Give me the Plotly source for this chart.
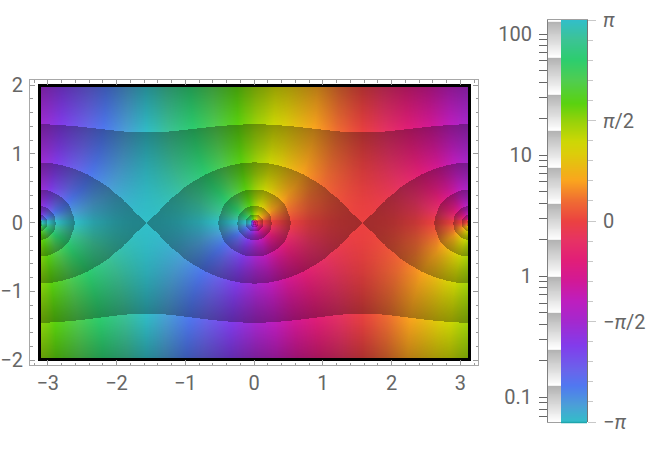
import math
import numpy as np
import plotly.graph_objects as go

W, H = 659, 472

# ---- values: one quadrant of the map (0<=x<=pi/2, 0<=y<=2)
X_NODES = [0, .0625, .125, .25, .5, .8, 1.1, 1.25, 1.3208, 1.3833, 1.4458, 1.5083, 1.5708]
Y_NODES = [0, .0625, .125, .1875, .25, .35, .5, .7, .88, 1.1, 1.3, 1.44, 1.75, 2]

# log2 of the magnitude at each node (rows = Y_NODES, columns = X_NODES)
LOG2_MAGNITUDE = [
    [-6, -4, -3, -2.015, -1.06, -.479, -.166, -.0755, -.0456, -.0256, -.0113, -.0028, 0],
    [-4, -3.5, -2.84, -1.97, -1.05, -.474, -.163, -.0724, -.0426, -.0227, -.0084, 0, .0028],
    [-3, -2.84, -2.5, -1.85, -1.01, -.457, -.152, -.0631, -.0336, -.014, .0001, .0085, .0113],
    [-2.406, -2.331, -2.145, -1.684, -.957, -.431, -.134, -.0476, -.0187, .0005, .0144, .0225, .0252],
    [-1.985, -1.94, -1.83, -1.5, -.884, -.395, -.11, -.0261, .0019, .0206, .034, .042, .0446],
    [-1.485, -1.463, -1.402, -1.202, -.742, -.319, -.059, .02, .0464, .064, .0767, .0841, .0866],
    [-.94, -.93, -.9, -.794, -.498, -.174, .046, .1145, .1377, .1532, .1645, .171, .1733],
    [-.399, -.394, -.379, -.326, -.156, .062, .227, .281, .299, .312, .321, .326, .328],
    [-.002, .001, .009, .041, .147, .298, .421, .462, .476, .486, .493, .497, .499],
    [.417, .419, .424, .442, .505, .6, .683, .712, .722, .729, .734, .737, .738],
    [.764, .765, .768, .78, .819, .883, .94, .96, .967, .972, .976, .978, .979],
    [.994, .995, .998, 1.005, 1.035, 1.082, 1.126, 1.142, 1.147, 1.151, 1.154, 1.156, 1.157],
    [1.48, 1.481, 1.482, 1.486, 1.501, 1.526, 1.55, 1.559, 1.562, 1.565, 1.566, 1.567, 1.567],
    [1.859, 1.859, 1.86, 1.862, 1.871, 1.886, 1.901, 1.906, 1.908, 1.91, 1.911, 1.911, 1.912],
]
# phase in radians at the same nodes
PHASE = [
    [.785, 0, 0, 0, 0, 0, 0, 0, 0, 0, 0, 0, 0],
    [1.571, .784, .461, .24, .114, .0605, .032, .0207, .0159, .0118, .0078, .0039, 0],
    [1.571, 1.105, .78, .453, .224, .12, .063, .0413, .0318, .0236, .0156, .0078, 0],
    [1.571, 1.245, .975, .628, .327, .178, .094, .0615, .0473, .0352, .0233, .0116, 0],
    [1.571, 1.321, 1.097, .765, .421, .234, .124, .0812, .0624, .0465, .0308, .0153, 0],
    [1.571, 1.387, 1.213, .922, .552, .316, .17, .1113, .0857, .0637, .0423, .0211, 0],
    [1.571, 1.436, 1.306, 1.066, .702, .422, .231, .1523, .1175, .0875, .058, .0289, 0],
    [1.571, 1.468, 1.366, 1.171, .836, .531, .298, .1982, .1531, .1142, .0758, .0378, 0],
    [1.571, 1.482, 1.395, 1.224, .912, .601, .345, .2305, .1785, .1332, .0886, .0442, 0],
    [1.571, 1.493, 1.415, 1.262, .972, .661, .387, .2599, .2016, .1507, .1003, .0501, 0],
    [1.571, 1.498, 1.426, 1.283, 1.006, .697, .413, .2788, .2166, .1621, .1079, .0539, 0],
    [1.571, 1.501, 1.431, 1.293, 1.022, .715, .427, .2886, .2244, .168, .1118, .0559, 0],
    [1.571, 1.504, 1.438, 1.306, 1.045, .741, .447, .3031, .2359, .1768, .1178, .0589, 0],
    [1.571, 1.506, 1.441, 1.312, 1.055, .752, .456, .3101, .2414, .1809, .1205, .0603, 0],
]

# colour legend stops: phase, then r, g, b
HUE_PHASES = [-math.pi, -2.88, -2.57, -2.33, -1.94, -1.55, -1.24, -.93, -.61, -.30, 0,
              .33, .64, 1.06, 1.25, 1.57, 1.84, 2.2, 2.52, 2.85, math.pi]
HUE_RGB = [(50, 190, 200), (75, 160, 215), (80, 120, 240), (105, 100, 235), (130, 60, 235),
           (165, 40, 205), (190, 30, 190), (210, 25, 150), (225, 30, 120), (230, 50, 100),
           (235, 65, 65), (240, 110, 50), (250, 165, 30), (220, 205, 10), (205, 215, 5),
           (150, 210, 10), (90, 210, 15), (80, 205, 80), (45, 205, 110), (60, 195, 150),
           (50, 190, 200)]

X_TICKS = [-3, -2, -1, 0, 1, 2, 3]
Y_TICKS = [-2, -1, 0, 1, 2]
MAG_TICK_VALUES = [.07, .08, .09, .1, .2, .3, .4, .5, .6, .7, .8, .9, 1, 2, 3, 4, 5, 6, 7, 8, 9,
                   10, 20, 30, 40, 50, 60, 70, 80, 90, 100]
MAG_TICK_LABELS = {.1: "0.1", 1: "1", 10: "10", 100: "100"}
HUE_TICK_LABELS = ["\u2212<i>\u03c0</i>", "\u2212<i>\u03c0</i>/2", "0", "<i>\u03c0</i>/2", "<i>\u03c0</i>"]

# ---- unfold the quadrant over the whole map
xq = np.array(X_NODES)
mq = np.array(LOG2_MAGNITUDE)
pq = np.array(PHASE)
x_right = np.concatenate([xq, math.pi - xq[-2::-1]])
x_full = np.concatenate([-x_right[:0:-1], x_right])
m_right = np.hstack([mq, mq[:, -2::-1]])
m_up = np.hstack([m_right[:, :0:-1], m_right])
p_right = np.hstack([pq, -pq[:, -2::-1]])
p_up = np.hstack([math.pi - p_right[:, :0:-1], p_right])
y_up = np.array(Y_NODES)
y_down = -y_up[::-1]
p_down = -p_up[::-1]
y_full = np.concatenate([y_down[:-1], y_up])
m_full = np.vstack([m_up[:0:-1], m_up])

# ---- colour scales
PH_MIN, PH_MAX = -1.5 * math.pi, 1.5 * math.pi
stops = {}
for off in (-2 * math.pi, 0, 2 * math.pi):
    for ph, c in zip(HUE_PHASES, HUE_RGB):
        v = ph + off
        if PH_MIN <= v <= PH_MAX:
            stops[round((v - PH_MIN) / (PH_MAX - PH_MIN), 6)] = "rgb(%d,%d,%d)" % c
def hue_at(ph):
    ph = (ph + math.pi) % (2 * math.pi) - math.pi
    return [int(round(np.interp(ph, HUE_PHASES, [c[i] for c in HUE_RGB]))) for i in range(3)]
stops[0.0] = "rgb(%d,%d,%d)" % tuple(hue_at(PH_MIN))
stops[1.0] = "rgb(%d,%d,%d)" % tuple(hue_at(PH_MAX))
hue_scale = [[k, stops[k]] for k in sorted(stops)]

SHADE = .31
M_MIN, M_MAX = -6, 8
shade_scale = []
for k in range(M_MIN, M_MAX):
    a = (k - M_MIN) / (M_MAX - M_MIN)
    b = (k + 1 - M_MIN) / (M_MAX - M_MIN)
    shade_scale.append([a, "rgba(0,0,0,0)"])
    shade_scale.append([b, "rgba(0,0,0,%g)" % SHADE])

fig = go.Figure()
common_hue = dict(colorscale=hue_scale, zmin=PH_MIN, zmax=PH_MAX, showscale=False,
                  hoverinfo="skip", zsmooth="best")
fig.add_trace(go.Heatmap(x=x_full, y=y_up, z=p_up, xaxis="x", yaxis="y", **common_hue))
fig.add_trace(go.Heatmap(x=x_full, y=y_down, z=p_down, xaxis="x", yaxis="y", **common_hue))
fig.add_trace(go.Heatmap(x=x_full, y=y_full, z=m_full, xaxis="x", yaxis="y", colorscale=shade_scale,
                         zmin=M_MIN, zmax=M_MAX, showscale=False, hoverinfo="skip", zsmooth="best"))
fig.add_trace(go.Scatter(x=[], y=[], xaxis="x2", yaxis="y2", showlegend=False))

# legends: a plain ramp through each scale
ramp_exp = np.linspace(-4, 7.05, 443)
fig.add_trace(go.Heatmap(x=[0, 1], y=2.0 ** ramp_exp, z=np.column_stack([ramp_exp, ramp_exp]),
                         xaxis="x3", yaxis="y3", colorscale=shade_scale, zmin=M_MIN, zmax=M_MAX,
                         showscale=False, hoverinfo="skip"))
ramp_ph = np.linspace(-math.pi, math.pi, 403)
fig.add_trace(go.Heatmap(x=[0, 1], y=ramp_ph, z=np.column_stack([ramp_ph, ramp_ph]),
                         xaxis="x4", yaxis="y4", colorscale=hue_scale, zmin=PH_MIN, zmax=PH_MAX,
                         showscale=False, hoverinfo="skip"))

def dom_x(a, b):
    return [a / W, b / W]
def dom_y(top, bottom):
    return [1 - bottom / H, 1 - top / H]

FONT = dict(family="Roboto", size=20, color="#666666")
FRAME = "#a8a8a8"
TICK = "#9a9a9a"
SC = 68.75
blank = dict(showticklabels=False, ticks="", showgrid=False, zeroline=False, automargin=False)
frame_axis = dict(ticks="inside", ticklen=5, tickwidth=1, tickcolor=TICK, showline=True, linecolor=FRAME,
                  linewidth=1, mirror="allticks", showgrid=False, zeroline=False, tickfont=FONT, automargin=False,
                  minor=dict(dtick=.2, ticks="inside", ticklen=2.5, tickcolor=TICK, tickwidth=1, showgrid=False))

mag_text = [MAG_TICK_LABELS.get(v, "") for v in MAG_TICK_VALUES]
hue_vals = [-math.pi, -math.pi / 2, 0, math.pi / 2, math.pi]
hue_minor = [i * math.pi / 10 for i in range(-10, 11) if i % 5]

fig.update_layout(
    width=W, height=H, margin=dict(l=0, r=0, t=0, b=0), autosize=False,
    paper_bgcolor="white", plot_bgcolor="rgba(0,0,0,0)", showlegend=False,
    font=FONT,
    xaxis=dict(domain=dom_x(41, 468), range=[(41 - 254) / SC, (468 - 254) / SC], anchor="y", showline=True,
               linecolor="black", linewidth=3, mirror=True, **blank),
    yaxis=dict(domain=dom_y(87, 358), range=[(222.5 - 358) / SC, (222.5 - 87) / SC], anchor="x", showline=True,
               linecolor="black", linewidth=3, mirror=True, **blank),
    xaxis2=dict(domain=dom_x(30, 478), range=[-224 / SC, 224 / SC], anchor="y2", tickvals=X_TICKS,
                ticktext=[str(v).replace("-", "\u2212") for v in X_TICKS], ticklabelstandoff=0, **frame_axis),
    yaxis2=dict(domain=dom_y(80, 365), range=[-142.5 / SC, 142.5 / SC], anchor="x2", tickvals=Y_TICKS,
                ticktext=[str(v).replace("-", "\u2212") for v in Y_TICKS], ticklabelstandoff=2, **frame_axis),
    xaxis3=dict(domain=dom_x(548, 561), range=[0, 1], anchor="y3", showline=True, linecolor="#a0a0a0",
                linewidth=1, mirror=True, **blank),
    yaxis3=dict(domain=dom_y(20, 422), type="log", range=[math.log10(.0625), math.log10(130.6)], anchor="x3",
                tickvals=MAG_TICK_VALUES, ticktext=mag_text, ticks="outside", ticklen=8, tickwidth=1,
                tickcolor="#666666", showline=True, linecolor="#808080", linewidth=1, showgrid=False,
                zeroline=False, tickfont=FONT, automargin=False, ticklabelstandoff=3),
    xaxis4=dict(domain=dom_x(561, 587), range=[0, 1], anchor="y4", side="top", showline=True,
                linecolor="#a0a0a0", linewidth=1, **blank),
    yaxis4=dict(domain=dom_y(20, 422), range=[-math.pi, math.pi], anchor="x4", side="right",
                tickvals=hue_vals, ticktext=HUE_TICK_LABELS, ticks="outside", ticklen=8, tickwidth=1,
                tickcolor="#c8c8c8", showline=True, linecolor="rgba(0,0,0,.55)", linewidth=1, showgrid=False,
                zeroline=False, tickfont=FONT, ticklabelstandoff=3, automargin=False,
                minor=dict(tickvals=hue_minor, ticks="outside", ticklen=5, tickcolor="#c8c8c8", tickwidth=1,
                           showgrid=False)),
    shapes=[dict(type="line", xref="paper", yref="paper", x0=561 / W, x1=587 / W, y0=1 - 422.5 / H, y1=1 - 422.5 / H,
                 line=dict(color="#1fa5ad", width=1.5))],
)
fig.write_html("out.html", post_script="document.body.style.margin='0';", config=dict(displayModeBar=False))
